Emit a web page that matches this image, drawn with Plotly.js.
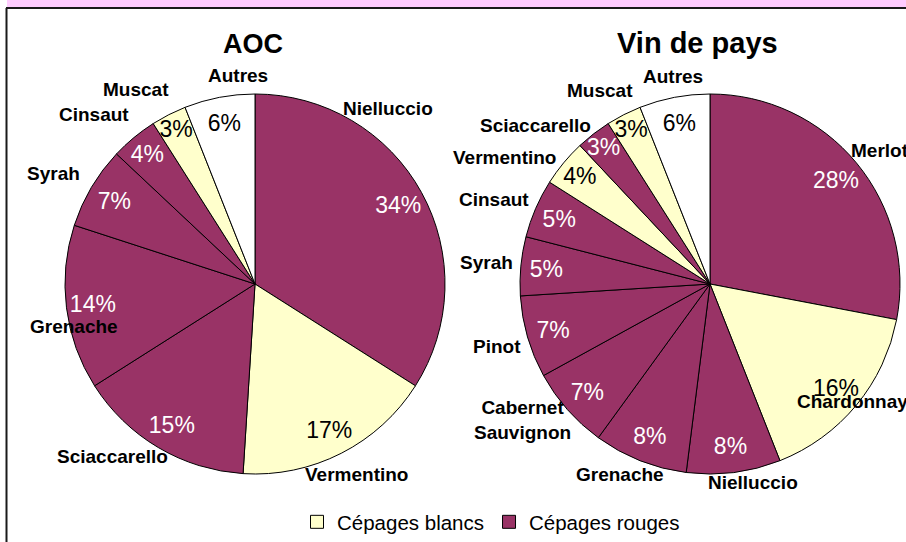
<!DOCTYPE html>
<html>
<head>
<meta charset="utf-8">
<script src="https://cdn.plot.ly/plotly-3.0.1.min.js"></script>
<style>html,body{margin:0;padding:0;background:#fff;}#chart{width:906px;height:542px;}</style>
</head>
<body>
<div id="chart"></div>
<script>
// ---- Data ----
var aocLabels = ['Nielluccio', 'Vermentino', 'Sciaccarello', 'Grenache', 'Syrah', 'Cinsaut', 'Muscat', 'Autres'];
var aocValues = [34, 17, 15, 14, 7, 4, 3, 6];
var aocTypes  = ['rouge', 'blanc', 'rouge', 'rouge', 'rouge', 'rouge', 'blanc', 'autre'];

var vdpLabels = ['Merlot', 'Chardonnay', 'Nielluccio', 'Grenache', 'Cabernet<br>Sauvignon', 'Pinot', 'Syrah', 'Cinsaut', 'Vermentino', 'Sciaccarello', 'Muscat', 'Autres'];
var vdpValues = [28, 16, 8, 8, 7, 7, 5, 5, 4, 3, 3, 6];
var vdpTypes  = ['rouge', 'blanc', 'rouge', 'rouge', 'rouge', 'rouge', 'rouge', 'rouge', 'blanc', 'rouge', 'blanc', 'autre'];

var chartTitles = ['AOC', 'Vin de pays'];
var legendNames = ['Cépages blancs', 'Cépages rouges'];

// ---- Styles / layout (not data) ----
var FONT = 'Arial, "Liberation Sans", sans-serif';
var fillFor = {rouge: '#993366', blanc: '#FFFFCC', autre: '#FFFFFF'};
var pctColorFor = {rouge: '#FFFFFF', blanc: '#000000', autre: '#000000'};
var W = 906, H = 542;
function px(x) { return x / W; }
function py(y) { return (H - y) / H; }

// pie placement in pixels
var pieGeom = [{cx: 255, cy: 284, r: 190}, {cx: 710, cy: 284, r: 190}];
// label placement style: angular nudge (degrees) and distance (in radii) from the slice middle
var aocLabelNudge = [-24, -1, 9, -6, -2, -4, -4.5, 6];
var aocLabelDist  = [1.16, 1.135, 1.18, 0.98, 1.21, 1.23, 1.20, 1.10];
var vdpLabelNudge = [1.4, 0, -5, 3.7, 5.5, 0, 0, -2, -8, -10, -2.7, 0.7];
var vdpLabelDist  = [1.14, 0.97, 1.07, 1.11, 1.22, 1.17, 1.18, 1.22, 1.27, 1.24, 1.17, 1.11];

function domainOf(g) {
  return {x: [px(g.cx - g.r), px(g.cx + g.r)], y: [py(g.cy + g.r), py(g.cy - g.r)]};
}

function pieTraces(labels, values, types, domain) {
  var transparent = labels.map(function () { return 'rgba(0,0,0,0)'; });
  var base = {
    type: 'pie', labels: labels, values: values, domain: domain,
    sort: false, direction: 'clockwise', rotation: 0,
    showlegend: false, hoverinfo: 'skip'
  };
  var fills = Object.assign({}, base, {
    marker: {colors: types.map(function (t) { return fillFor[t]; }), line: {color: '#000', width: 1}},
    textinfo: 'none'
  });
  var pcts = Object.assign({}, base, {
    hole: 0.72,
    marker: {colors: transparent, line: {width: 0}},
    texttemplate: '%{value}%',
    textposition: 'inside',
    insidetextorientation: 'horizontal',
    textfont: {family: FONT, size: 23, color: types.map(function (t) { return pctColorFor[t]; })}
  });
  return [fills, pcts];
}

// category-name labels placed around each slice's middle angle (computed from the values)
function labelAnnotations(labels, values, g, nudge, dist) {
  var total = values.reduce(function (a, b) { return a + b; }, 0);
  var cum = 0, out = [];
  for (var i = 0; i < values.length; i++) {
    var mid = (cum + values[i] / 2) / total * 360 + nudge[i];
    cum += values[i];
    var a = mid * Math.PI / 180;
    var x = g.cx + dist[i] * g.r * Math.sin(a);
    var y = g.cy - dist[i] * g.r * Math.cos(a);
    out.push({text: '<b>' + labels[i] + '</b>', xref: 'paper', yref: 'paper', x: px(x), y: py(y),
      xanchor: 'center', yanchor: 'middle', showarrow: false, align: 'center',
      font: {family: FONT, size: 19, color: '#000'}});
  }
  return out;
}

var data = []
  .concat(pieTraces(aocLabels, aocValues, aocTypes, domainOf(pieGeom[0])))
  .concat(pieTraces(vdpLabels, vdpValues, vdpTypes, domainOf(pieGeom[1])));

// legend entries
data.push({type: 'scatter', x: [null], y: [null], mode: 'markers', name: legendNames[0],
  marker: {symbol: 'square', size: 13, color: fillFor.blanc, line: {color: '#000', width: 1}}, showlegend: true});
data.push({type: 'scatter', x: [null], y: [null], mode: 'markers', name: legendNames[1],
  marker: {symbol: 'square', size: 13, color: fillFor.rouge, line: {color: '#000', width: 1}}, showlegend: true});

var annotations = [
  {text: '<b>' + chartTitles[0] + '</b>', xref: 'paper', yref: 'paper', x: px(253), y: py(44), xanchor: 'center', yanchor: 'middle', showarrow: false, font: {family: FONT, size: 27, color: '#000'}},
  {text: '<b>' + chartTitles[1] + '</b>', xref: 'paper', yref: 'paper', x: px(697), y: py(43), xanchor: 'center', yanchor: 'middle', showarrow: false, font: {family: FONT, size: 29, color: '#000'}}
].concat(labelAnnotations(aocLabels, aocValues, pieGeom[0], aocLabelNudge, aocLabelDist))
 .concat(labelAnnotations(vdpLabels, vdpValues, pieGeom[1], vdpLabelNudge, vdpLabelDist));

var layout = {
  width: W, height: H,
  margin: {l: 0, r: 0, t: 0, b: 0},
  paper_bgcolor: '#fff', plot_bgcolor: 'rgba(0,0,0,0)',
  font: {family: FONT, color: '#000'},
  xaxis: {visible: false}, yaxis: {visible: false},
  uniformtext: {mode: 'show', minsize: 23},
  showlegend: true,
  legend: {orientation: 'h', x: px(491), xanchor: 'center', y: py(522), yanchor: 'middle',
    font: {family: FONT, size: 20.5, color: '#000'}, bgcolor: 'rgba(0,0,0,0)', itemwidth: 30, tracegroupgap: 0},
  annotations: annotations,
  shapes: [
    {type: 'rect', xref: 'paper', yref: 'paper', x0: px(7), x1: 1, y0: py(7), y1: 1, fillcolor: '#FFCCFF', line: {width: 0}, layer: 'below'},
    {type: 'line', xref: 'paper', yref: 'paper', x0: px(6), x1: 1, y0: py(8), y1: py(8), line: {color: '#1a1a1a', width: 2}},
    {type: 'line', xref: 'paper', yref: 'paper', x0: px(6.5), x1: px(6.5), y0: py(8), y1: 0, line: {color: '#1a1a1a', width: 2}}
  ]
};

Plotly.newPlot('chart', data, layout, {displayModeBar: false, staticPlot: true});
</script>
</body>
</html>
